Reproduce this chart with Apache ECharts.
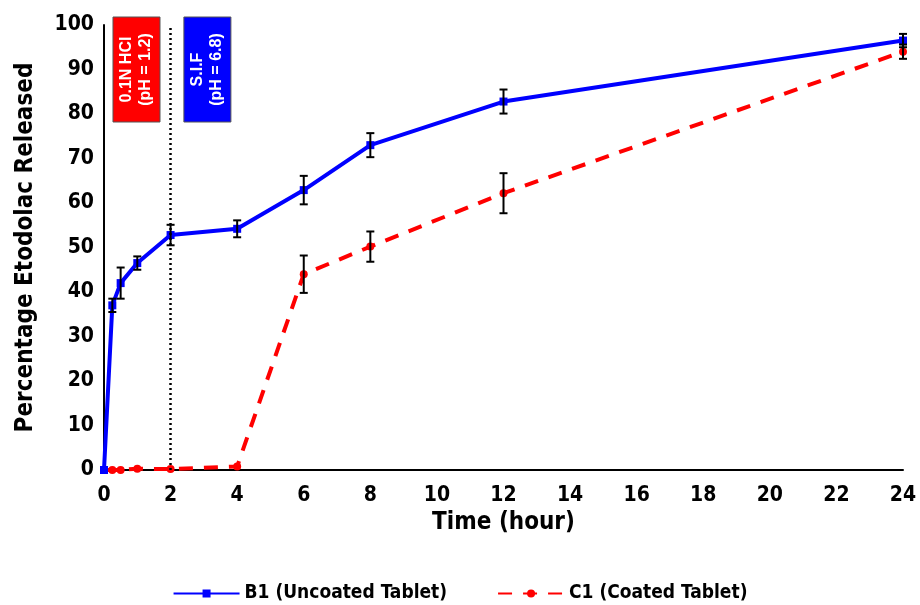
<!DOCTYPE html>
<html><head><meta charset="utf-8">
<script src="https://cdn.jsdelivr.net/npm/echarts@6/dist/echarts.min.js"></script>
<style>html,body{margin:0;padding:0;background:#fff}#c{width:920px;height:605px}</style>
</head><body><div id="c"></div>
<script>
var times = [0, 0.25, 0.5, 1, 2, 4, 6, 8, 12, 24];
var b1Values = [0, 37, 42, 46.5, 52.8, 54.2, 62.9, 73.0, 82.8, 96.5];
var b1Errors = [0, 1.5, 3.5, 1.5, 2.3, 1.9, 3.2, 2.7, 2.7, 1.5];
var c1Values = [0, 0, 0, 0.3, 0.2, 0.8, 44, 50.2, 62.2, 94];
var c1Errors = [0, 0, 0, 0, 0, 0, 4.2, 3.4, 4.5, 1.6];
var xTicks = [0, 2, 4, 6, 8, 10, 12, 14, 16, 18, 20, 22, 24];
var yTicks = [0, 10, 20, 30, 40, 50, 60, 70, 80, 90, 100];
var seriesNames = ['B1 (Uncoated Tablet)', 'C1 (Coated Tablet)'];
var phaseLabels = [['0.1N HCl', '(pH = 1.2)'], ['S.I.F', '(pH = 6.8)']];
var phaseBoundary = 2;

var FONT = '"Liberation Sans Narrow", "DejaVu Sans Condensed", "Roboto", sans-serif';

function pairs(vals) { return times.map(function (t, i) { return [t, vals[i]]; }); }
function errData(vals, errs) {
  var out = [];
  times.forEach(function (t, i) { if (errs[i] > 0) out.push([t, vals[i] - errs[i], vals[i] + errs[i]]); });
  return out;
}
function errRender(params, api) {
  var x = api.value(0);
  var lo = api.coord([x, api.value(1)]);
  var hi = api.coord([x, api.value(2)]);
  var w = 4;
  var st = { stroke: '#000', lineWidth: 2 };
  return { type: 'group', children: [
    { type: 'line', shape: { x1: lo[0], y1: lo[1], x2: hi[0], y2: hi[1] }, style: st },
    { type: 'line', shape: { x1: lo[0] - w, y1: lo[1], x2: lo[0] + w, y2: lo[1] }, style: st },
    { type: 'line', shape: { x1: hi[0] - w, y1: hi[1], x2: hi[0] + w, y2: hi[1] }, style: st }
  ]};
}

var chart = echarts.init(document.getElementById('c'));
chart.setOption({
  animation: false,
  backgroundColor: '#fff',
  grid: { left: 104, right: 17, top: 25, bottom: 135 },
  legend: {
    bottom: -3, left: 'center', itemWidth: 66, itemHeight: 10, itemGap: 50,
    textStyle: { fontFamily: FONT, fontWeight: 'bold', fontSize: 19, color: '#000' },
    data: seriesNames
  },
  xAxis: {
    type: 'value', min: 0, max: 24, interval: 2,
    name: 'Time (hour)', nameLocation: 'middle', nameGap: 38,
    nameTextStyle: { fontFamily: FONT, fontWeight: 'bold', fontSize: 24, color: '#000' },
    axisLine: { lineStyle: { color: '#000', width: 2 } },
    axisTick: { show: false }, splitLine: { show: false },
    axisLabel: { fontFamily: FONT, fontWeight: 'bold', fontSize: 21, color: '#000', margin: 15,
      formatter: function (v) { return xTicks.indexOf(v) >= 0 ? String(v) : ''; } }
  },
  yAxis: {
    type: 'value', min: 0, max: 100, interval: 10,
    name: 'Percentage Etodolac Released', nameLocation: 'middle', nameGap: 66,
    nameTextStyle: { fontFamily: FONT, fontWeight: 'bold', fontSize: 24, color: '#000' },
    axisLine: { show: true, lineStyle: { color: '#000', width: 2 } },
    axisTick: { show: false }, splitLine: { show: false },
    axisLabel: { fontFamily: FONT, fontWeight: 'bold', fontSize: 21, color: '#000', margin: 10,
      formatter: function (v) { return yTicks.indexOf(v) >= 0 ? String(v) : ''; } }
  },
  series: [
    {
      name: seriesNames[0], type: 'line', data: pairs(b1Values),
      symbol: 'rect', symbolSize: 8, showSymbol: true,
      lineStyle: { color: '#0000ff', width: 4 }, itemStyle: { color: '#0000ff' }, z: 3,
      markLine: {
        silent: true, symbol: 'none', label: { show: false },
        lineStyle: { color: '#000', type: [2, 3], width: 2.5 },
        data: [{ xAxis: phaseBoundary }]
      }
    },
    {
      name: seriesNames[1], type: 'line', data: pairs(c1Values),
      symbol: 'circle', symbolSize: 8,
      lineStyle: { color: '#ff0000', width: 4, type: [14, 11] }, itemStyle: { color: '#ff0000' }, z: 2
    },
    { type: 'custom', renderItem: errRender, data: errData(b1Values, b1Errors), z: 5, silent: true },
    { type: 'custom', renderItem: errRender, data: errData(c1Values, c1Errors), z: 5, silent: true }
  ]
});

function phaseBox(x0, color, lines) {
  var p = chart.convertToPixel({ gridIndex: 0 }, [x0, 100]);
  var w = 47, h = 105;
  return {
    type: 'group', x: p[0], y: p[1] - 8,
    children: [
      { type: 'rect', shape: { x: 0, y: 0, width: w, height: h },
        style: { fill: color, stroke: '#555', lineWidth: 1 } },
      { type: 'text', x: w / 2, y: h / 2, rotation: Math.PI / 2,
        style: { text: lines.join('\n'), fill: '#fff', fontFamily: '"Liberation Sans", Arial, sans-serif',
          fontWeight: 'bold', fontSize: 16, lineHeight: 19, align: 'center', verticalAlign: 'middle' } }
    ]
  };
}
chart.setOption({ graphic: [
  phaseBox(0.27, '#ff0000', phaseLabels[0]),
  phaseBox(2.4, '#0000ff', phaseLabels[1])
]});
</script></body></html>
